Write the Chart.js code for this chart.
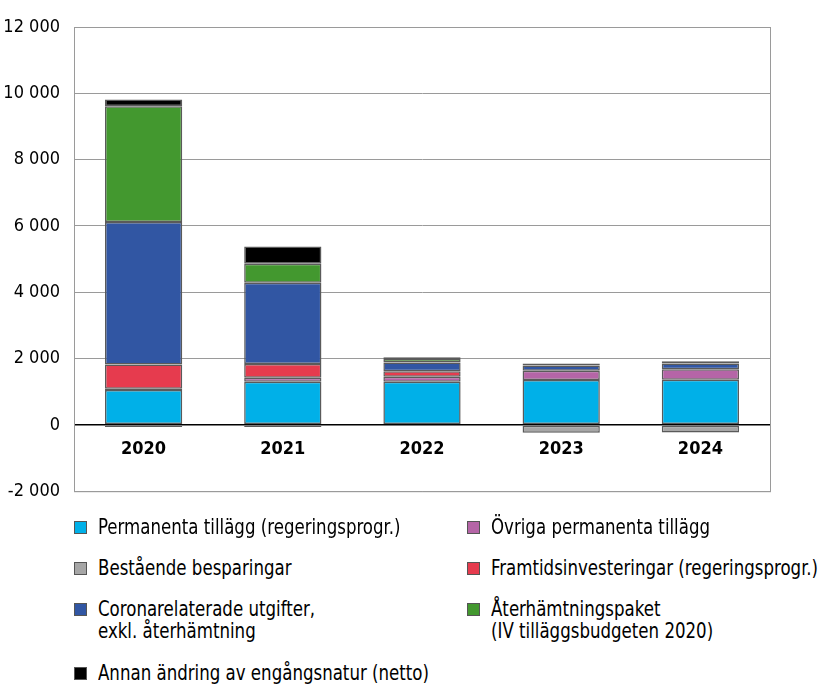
<!DOCTYPE html>
<html>
<head>
<meta charset="utf-8">
<script src="https://cdn.jsdelivr.net/npm/chart.js@4/dist/chart.umd.min.js"></script>
<style>
  html, body { margin: 0; padding: 0; background: #fff; }
  body { width: 819px; height: 685px; position: relative; overflow: hidden;
         font-family: 'DejaVu Sans Condensed', 'Liberation Sans Narrow', sans-serif; color: #000; }
  #wrap { position: absolute; left: 0; top: 0; width: 819px; height: 516px; }
  .leg { position: absolute; }
  .leg .sw { position: absolute; left: 0; top: 5px; width: 11px; height: 11px; border: 1px solid #555; }
  .leg .tx { position: absolute; left: 24px; top: 0; font-size: 21px; line-height: 22px;
             white-space: nowrap; transform: scaleX(0.88); transform-origin: 0 0; }
</style>
</head>
<body>
<div id="wrap"><canvas id="chart"></canvas></div>
<div id="legend"></div>
<script>
// years on the x axis
const years = ['2020', '2021', '2022', '2023', '2024'];
const yTicks = [-2000, 0, 2000, 4000, 6000, 8000, 10000, 12000];

// series values (mnkr)
const permanenta   = [1050, 1300, 1300, 1350, 1360];
const bestaende    = [-60, -60, -30, -240, -230];
const ovrigaPerm   = [40, 120, 150, 280, 320];
const framtids     = [730, 420, 170, null, null];
const corona       = [4300, 2450, 260, 160, 170];
const aterhamtning = [3490, 570, 110, 60, null];
const annan        = [200, 520, 50, null, 70];

const series = [
  { label: 'Permanenta tillägg (regeringsprogr.)', data: permanenta, color: '#00b0e8' },
  { label: 'Övriga permanenta tillägg', data: ovrigaPerm, color: '#b565a7' },
  { label: 'Framtidsinvesteringar (regeringsprogr.)', data: framtids, color: '#e63b4e' },
  { label: 'Coronarelaterade utgifter,\nexkl. återhämtning', data: corona, color: '#3156a3' },
  { label: 'Återhämtningspaket\n(IV tilläggsbudgeten 2020)', data: aterhamtning, color: '#43982f' },
  { label: 'Annan ändring av engångsnatur (netto)', data: annan, color: '#000000' },
  { label: 'Bestående besparingar', data: bestaende, color: '#a6a6a6' },
];

const FONT = "'DejaVu Sans Condensed', 'Liberation Sans Narrow', sans-serif";

// outer frame round the plot area
const frame = {
  id: 'frame',
  afterDraw(chart) {
    const { ctx, chartArea: a } = chart;
    ctx.save();
    ctx.strokeStyle = '#9a9a9a';
    ctx.lineWidth = 1;
    ctx.strokeRect(a.left + 0.5, a.top + 0.5, a.right - a.left, a.bottom - a.top);
    ctx.restore();
  }
};

new Chart(document.getElementById('chart'), {
  type: 'bar',
  data: {
    labels: years,
    datasets: series.map(s => ({
      label: s.label,
      data: s.data,
      backgroundColor: s.color,
      borderColor: '#5a5a5a',
      borderWidth: 1.5,
      borderSkipped: false,
      categoryPercentage: 1,
      barPercentage: 0.555,
    })),
  },
  options: {
    responsive: true,
    maintainAspectRatio: false,
    animation: false,
    layout: { padding: { top: 27, right: 49, bottom: 5, left: 0 } },
    plugins: { legend: { display: false }, tooltip: { enabled: false } },
    scales: {
      x: {
        stacked: true,
        position: { y: 0 },
        grid: { display: false },
        border: { display: false },
        ticks: { color: '#000', padding: 6, font: { family: FONT, size: 18, weight: 'bold' } },
      },
      y: {
        stacked: true,
        min: -2000,
        max: 12000,
        afterBuildTicks: axis => { axis.ticks = yTicks.map(v => ({ value: v })); },
        afterFit: axis => { axis.width = 74; },
        grid: {
          drawTicks: false,
          color: c => c.tick && c.tick.value === 0 ? '#000' : '#9a9a9a',
          lineWidth: c => c.tick && c.tick.value === 0 ? 1.6 : 1,
        },
        border: { color: '#9a9a9a' },
        ticks: {
          color: '#000',
          padding: 14,
          font: { family: FONT, size: 18 },
          callback: v => String(v).replace(/\B(?=(\d{3})+(?!\d))/g, ' '),
        },
      },
    },
  },
  plugins: [frame],
});

// legend in two columns, as in the report
const legendPos = [
  { i: 0, x: 74, y: 516 },
  { i: 1, x: 467, y: 516 },
  { i: 6, x: 74, y: 557 },
  { i: 2, x: 467, y: 557 },
  { i: 3, x: 74, y: 598 },
  { i: 4, x: 467, y: 598 },
  { i: 5, x: 74, y: 662 },
];
document.getElementById('legend').innerHTML = legendPos.map(p => {
  const s = series[p.i];
  return `<div class="leg" style="left:${p.x}px;top:${p.y}px">
    <span class="sw" style="background:${s.color}"></span>
    <div class="tx">${s.label.replace('\n', '<br>')}</div></div>`;
}).join('');
</script>
</body>
</html>
